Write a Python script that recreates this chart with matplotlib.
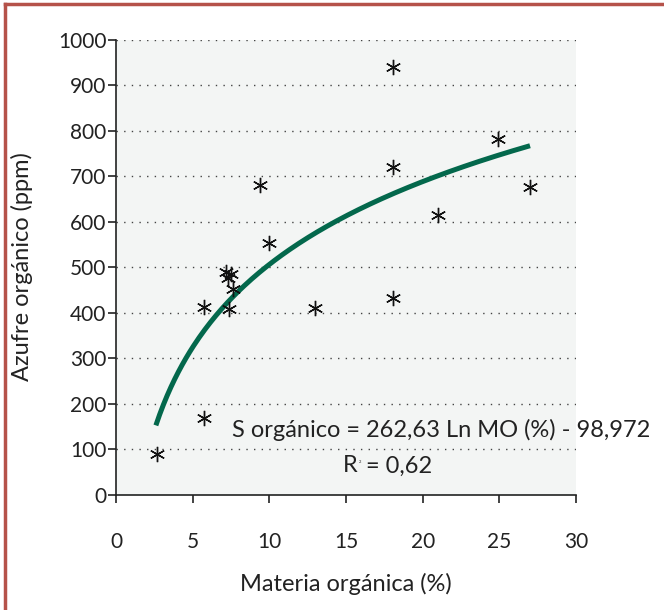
import numpy as np
import matplotlib
matplotlib.use("Agg")
import matplotlib.pyplot as plt
from matplotlib.lines import Line2D

plt.rcParams['font.family'] = ['Lato', 'DejaVu Sans']

# materia organica (%) vs azufre organico (ppm)
mo = [2.7, 5.75, 5.75, 7.2, 7.5, 7.3, 7.4, 7.6, 9.4, 10.0, 13.0, 18.05, 18.05, 18.05, 21.0, 24.9, 27.0]
s_org = [89, 169, 413, 488, 484, 476, 408, 452, 680, 552, 409, 939, 719, 431, 614, 781, 676]

# ajuste logaritmico
coef_a = 262.63
coef_b = -98.972
x_fit = np.linspace(2.6, 27.0, 200)
y_fit = coef_a * np.log(x_fit) + coef_b

xticks = [0, 5, 10, 15, 20, 25, 30]
yticks = [0, 100, 200, 300, 400, 500, 600, 700, 800, 900, 1000]

fig = plt.figure(figsize=(6.64, 6.10), dpi=100)
ax = fig.add_axes([0.1747, 0.1893, 0.6928, 0.7459])
ax.set_facecolor('#f3f5f4')

for yv in yticks[1:]:
    ax.axhline(yv, color='#444444', lw=1.0, linestyle=(0, (1, 4.5)), zorder=1)

ax.plot(x_fit, y_fit, color='#03684c', lw=3.6, solid_capstyle='butt', zorder=2)
ax.plot(mo, s_org, linestyle='none', marker=(6, 2, 0), markersize=11,
        markeredgewidth=1.0, color='#111111', zorder=3)

ax.set_xlim(0, 30)
ax.set_ylim(0, 1000)
ax.set_xticks(xticks)
ax.set_yticks(yticks)
for sp in ['top', 'right']:
    ax.spines[sp].set_visible(False)
for sp in ['left', 'bottom']:
    ax.spines[sp].set_linewidth(1.2)
    ax.spines[sp].set_color('#222222')
ax.tick_params(axis='both', direction='out', length=6, width=1.2, color='#222222',
               labelsize=15, labelcolor='#222222')
ax.tick_params(axis='x', pad=21)
ax.tick_params(axis='y', pad=1)

ax.set_xlabel('Materia orgánica (%)', fontsize=17, color='#222222')
ax.set_ylabel('Azufre orgánico (ppm)', fontsize=17, color='#222222')
ax.xaxis.set_label_coords(0.5, -0.172)
ax.yaxis.set_label_coords(-0.18, 0.5)

ax.text(7.56, 142, 'S orgánico = 262,63 Ln MO (%) - 98,972', fontsize=17,
        color='#222222', ha='left', va='center')
r_txt = ax.text(14.8, 63, 'R', fontsize=17, color='#222222', ha='left', va='center')
ax.annotate('2', xy=(1, 1), xycoords=r_txt, xytext=(0.5, -3), textcoords='offset points',
            fontsize=3, color='#222222', ha='left', va='top')
ax.annotate('= 0,62', xy=(1, 0.5), xycoords=r_txt, xytext=(6, 0), textcoords='offset points',
            fontsize=17, color='#222222', ha='left', va='center')

# marco
border = '#b5524a'
fig.add_artist(Line2D([0.0075, 0.0075], [0.0, 0.9935], transform=fig.transFigure,
                      color=border, lw=2.5))
fig.add_artist(Line2D([0.0075, 1.0], [0.9935, 0.9935], transform=fig.transFigure,
                      color=border, lw=2.5))

fig.savefig('out.png', dpi=100)
